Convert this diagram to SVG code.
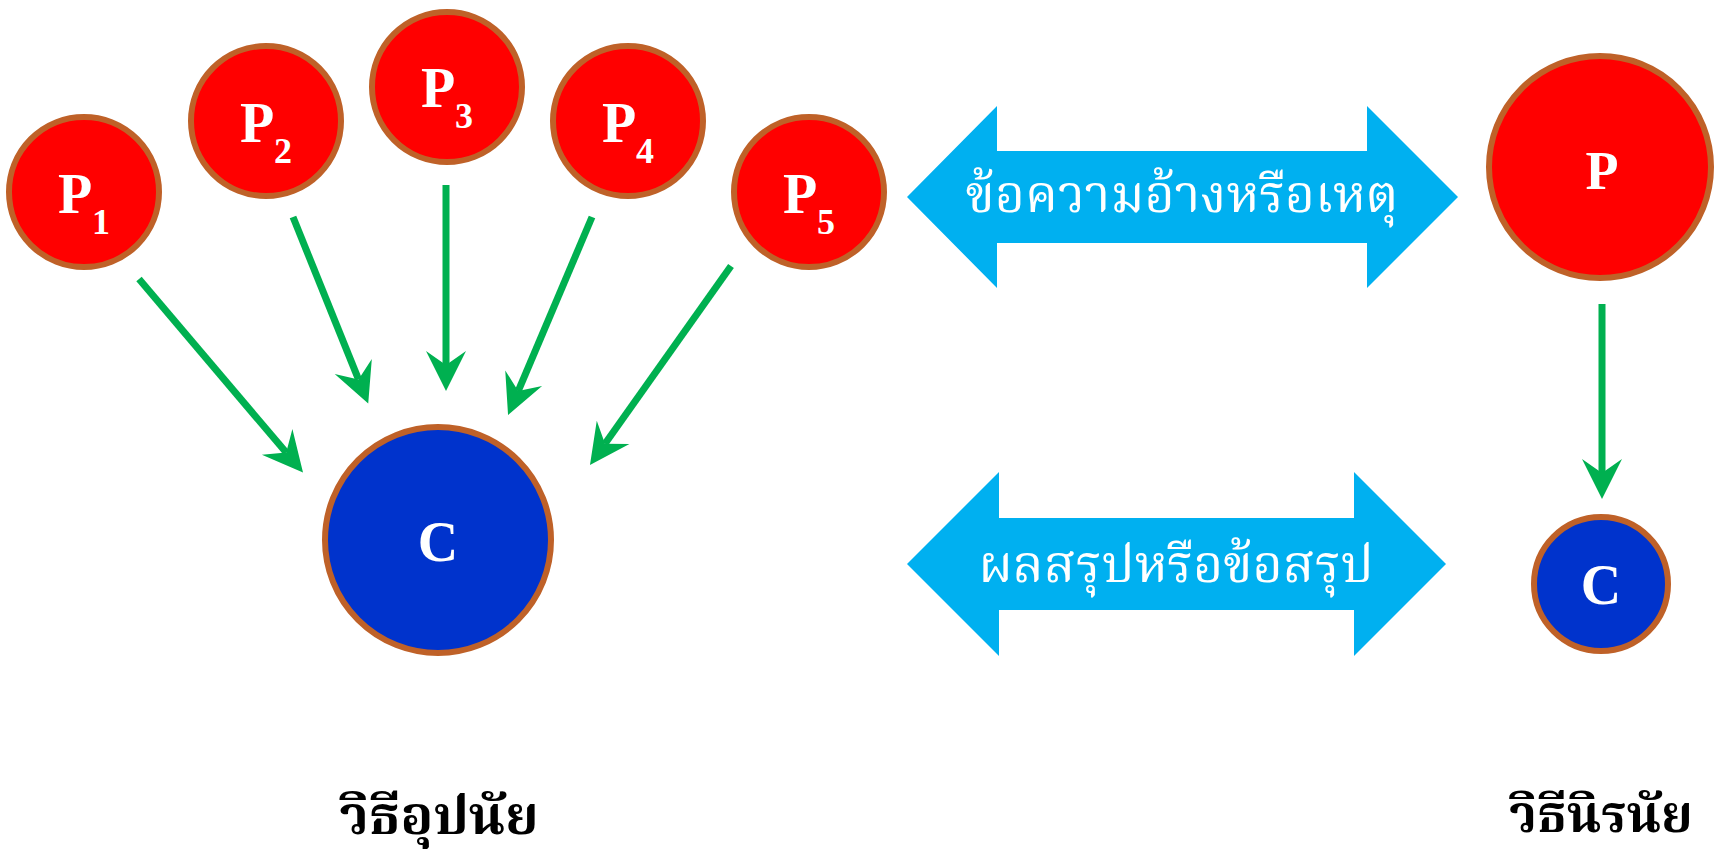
<svg xmlns="http://www.w3.org/2000/svg" width="1714" height="849" viewBox="0 0 1714 849">
<style>
.prem{fill:#FF0000;stroke:#BF6128;stroke-width:6}
.conc{fill:#0033CC;stroke:#BF6128;stroke-width:6}
.lbl{font-family:"Liberation Serif","Times New Roman",serif;font-weight:bold;fill:#FFFFFF}
.big{font-size:56px}
.sub{font-size:36px}
.band{fill:#00B0F0}
.bandtxt{font-family:"Noto Serif Thai","Noto Sans Thai","Loma",serif;font-size:52px;fill:#FFFFFF;text-anchor:middle}
.title{font-family:"Noto Serif Thai","Noto Sans Thai","Norasi","Liberation Serif",serif;font-weight:bold;fill:#000000;text-anchor:middle}
.conn line{stroke:#00B050;stroke-width:7;fill:none;marker-end:url(#ah)}
</style>
<defs>
<marker id="ah" markerUnits="userSpaceOnUse" markerWidth="60" markerHeight="60" refX="0" refY="0" viewBox="-20 -30 60 60" orient="auto" overflow="visible">
<path d="M26,0 L-14,-20 L0,0 L-14,20 Z" fill="#00B050"/>
</marker>
</defs>

<g id="P1"><circle class="prem" cx="84" cy="192" r="75"/><text class="lbl big" x="58" y="213">P</text><text class="lbl sub" x="92" y="234">1</text></g>
<g id="P2"><circle class="prem" cx="266" cy="121" r="75"/><text class="lbl big" x="240" y="142">P</text><text class="lbl sub" x="274" y="163">2</text></g>
<g id="P3"><circle class="prem" cx="447" cy="87" r="75"/><text class="lbl big" x="421" y="107">P</text><text class="lbl sub" x="455" y="128">3</text></g>
<g id="P4"><circle class="prem" cx="628" cy="121" r="75"/><text class="lbl big" x="602" y="142">P</text><text class="lbl sub" x="636" y="163">4</text></g>
<g id="P5"><circle class="prem" cx="809" cy="192" r="75"/><text class="lbl big" x="783" y="213">P</text><text class="lbl sub" x="817" y="234">5</text></g>
<g id="C1"><circle class="conc" cx="438" cy="540" r="113"/><text class="lbl big" x="438" y="561" text-anchor="middle">C</text></g>

<g id="P"><circle class="prem" cx="1600" cy="167" r="111"/><text class="lbl" font-size="54" x="1602" y="189" text-anchor="middle">P</text></g>
<g id="C2"><circle class="conc" cx="1601" cy="584" r="67"/><text class="lbl big" x="1601" y="604" text-anchor="middle">C</text></g>

<g id="band1"><polygon class="band" points="907,197 997,106 997,151 1367,151 1367,106 1458,197 1367,288 1367,243 997,243 997,288"/><text class="bandtxt" x="1182" y="212">ข้อความอ้างหรือเหตุ</text></g>
<g id="band2"><polygon class="band" points="907,564 999,472 999,518 1354,518 1354,472 1446,564 1354,656 1354,610 999,610 999,656"/><text class="bandtxt" x="1176" y="582">ผลสรุปหรือข้อสรุป</text></g>

<g id="label1"><text class="title" font-size="54" x="439" y="834">วิธีอุปนัย</text></g>
<g id="label2"><text class="title" font-size="51" x="1601" y="832">วิธีนิรนัย</text></g>

<g id="connectors" class="conn">
<line x1="139" y1="279" x2="286.2" y2="452.6"/>
<line x1="293" y1="217" x2="358.5" y2="379.4"/>
<line x1="446" y1="185" x2="446" y2="365"/>
<line x1="592" y1="217" x2="518.2" y2="391.1"/>
<line x1="731" y1="266" x2="605" y2="443.8"/>
<line x1="1602" y1="304" x2="1602" y2="473"/>
</g>
</svg>
